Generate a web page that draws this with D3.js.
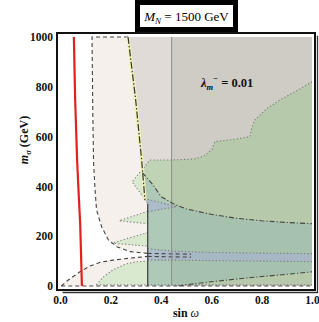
<!DOCTYPE html>
<html><head><meta charset="utf-8">
<script src="https://cdn.jsdelivr.net/npm/d3@7"></script>
<style>body{margin:0;background:#fff} text{font-family:"Liberation Serif","Times New Roman",serif}</style>
</head><body><svg id="c" width="319" height="322"></svg>
<script>
// ---- data (sin omega, m_sigma in GeV) ----
const xTicks = [0.0, 0.2, 0.4, 0.6, 0.8, 1.0];
const xTickLabels = ["0.0", "0.2", "0.4", "0.6", "0.8", "1.0"];
const yTicks = [0, 200, 400, 600, 800, 1000];
const yTickLabels = ["0", "200", "400", "600", "800", "1000"];

const redLine = [[0.055,1000],[0.06,750],[0.068,500],[0.075,350],[0.08,250],[0.087,0]];
const beigeUpper = [[0.27,1000],[0.127,1000],[0.13,700],[0.133,500],[0.139,386],[0.145,305],[0.165,238],[0.192,185],[0.225,158],[0.278,138],[0.348,131]];
const beigeLower = [[0.005,0],[0.03,22],[0.079,57],[0.119,80],[0.159,95],[0.21,104],[0.278,112],[0.348,119]];
const dashA = [[0.348,131],[0.45,129],[0.52,128]];
const dashB = [[0.348,119],[0.45,117],[0.52,116]];
const bottomDash = [[0.005,0],[1.0,0]];
const slantLine = [[0.27,1000],[0.30,750],[0.324,506],[0.337,345],[0.348,330]];
const slantEdge = [[0.348,330],[0.348,0]];
const grayEdge = [[0.443,0],[0.443,1000]];
const greenBorder = [[1.0,820],[0.95,790],[0.873,747],[0.82,712],[0.774,667],[0.76,632],[0.754,600],[0.70,590],[0.615,580],[0.603,548],[0.568,520],[0.53,510],[0.444,506],[0.357,506],[0.286,418],[0.344,339],[0.348,330]];
const greenBottom = [[0.145,5],[1.0,5]];
const tealUpper = [[0.327,455],[0.37,405],[0.40,360],[0.45,330],[0.5,310],[0.6,288],[0.7,272],[0.8,262],[0.9,255],[1.0,250]];
const tealLower = [[0.47,0],[0.5,5],[0.6,17],[0.7,28],[0.8,38],[0.9,47],[1.0,57]];
const lavTop = [[0.348,150],[0.45,140],[0.6,135],[0.8,132],[1.0,130]];
const lavBot = [[0.348,104],[0.45,104],[0.6,102],[0.8,100],[1.0,98]];
const lavWedge = [[0.348,348],[0.40,335],[0.46,318],[0.40,308],[0.348,298]];
const finger1 = [[0.348,300],[0.235,262],[0.348,250]];
const finger2 = [[0.348,215],[0.205,172],[0.348,160]];
const lens = [[0.145,5],[0.17,35],[0.21,65],[0.26,88],[0.30,97],[0.348,100],[0.348,5]];

// ---- scales ----
const svg = d3.select("#c");
const x = d3.scaleLinear().domain([-0.012,1.012]).range([57,315]);
const y = d3.scaleLinear().domain([-16,1016]).range([290,33]);
const line = d3.line().x(d=>x(d[0])).y(d=>y(d[1]));
const poly = pts => line(pts) + "Z";

const defs = svg.append("defs");
defs.append("clipPath").attr("id","plot").append("rect")
  .attr("x",x(-0.012)).attr("y",y(1016)).attr("width",x(1.012)-x(-0.012)).attr("height",y(-16)-y(1016));

const gray1 = slantLine.concat([[0.348,0],[1.0,0],[1.0,1000]]);
const leftOfSlant = [[0,1000]].concat(slantLine,[[0.348,0],[0,0]]);
defs.append("clipPath").attr("id","inGray").append("path").attr("d",poly(gray1));
defs.append("clipPath").attr("id","outGray").append("path").attr("d",poly(leftOfSlant));

const g = svg.append("g").attr("clip-path","url(#plot)");

// beige allowed region
const beige = [[1.0,1000]].concat(beigeUpper, beigeLower.slice().reverse(), [[1.0,0]]);
g.append("path").attr("d",poly(beige)).attr("fill","#e8ddd2").attr("fill-opacity",0.45);
// gray regions
g.append("path").attr("d",poly(gray1)).attr("fill","#b0aca6").attr("fill-opacity",0.3);
g.append("path").attr("d",poly([[0.443,0],[0.443,1000],[1,1000],[1,0]])).attr("fill","#a8a49f").attr("fill-opacity",0.3);
// green region
const greenPoly = greenBorder.concat([[0.348,5],[1.0,5]]);
g.append("path").attr("d",poly(greenPoly)).attr("clip-path","url(#inGray)").attr("fill","#8cc67c").attr("fill-opacity",0.37);
g.append("path").attr("d",poly(greenPoly)).attr("clip-path","url(#outGray)").attr("fill","#b8e0b0").attr("fill-opacity",0.45);
[finger1, finger2, lens].forEach(f=>{
  g.append("path").attr("d",poly(f)).attr("fill","#b8e0b0").attr("fill-opacity",0.45);
});
// teal region
const teal = tealUpper.concat(tealLower.slice().reverse(), [[0.348,0],[0.348,330],[0.337,345]]);
g.append("path").attr("d",poly(teal)).attr("fill","#6fa8c0").attr("fill-opacity",0.22);
// lavender
g.append("path").attr("d",poly(lavTop.concat(lavBot.slice().reverse()))).attr("fill","#a8a4ec").attr("fill-opacity",0.35);
g.append("path").attr("d",poly(lavWedge)).attr("fill","#a8a4ec").attr("fill-opacity",0.35);

// lines
const stroke = (pts, col, w, dash) => g.append("path").attr("d",line(pts)).attr("fill","none")
  .attr("stroke",col).attr("stroke-width",w).attr("stroke-dasharray",dash);
[greenBorder, greenBottom, lavTop, lavBot, lavWedge.slice(0,3), lavWedge.slice(2)].forEach(p=>stroke(p,"#7a7a7a",1.1,"1.2,2.2"));
[finger1, finger2, lens.slice(0,6)].forEach(p=>stroke(p,"#7a7a7a",1.1,"1.2,2.2"));
[beigeUpper, beigeLower, dashA, dashB, bottomDash].forEach(p=>stroke(p,"#444",1.1,"4,3"));
stroke(grayEdge,"#8c8c8c",1,null);
stroke(slantEdge,"#444",1.3,null);
stroke(slantLine.slice(0,4),"#f2f0b8",3.5,null);
stroke(slantLine.slice(0,4),"#333",1.2,"7,2,1.5,2");
stroke(tealUpper,"#444",1.1,"5,2,1.2,2");
stroke(tealLower,"#444",1.1,"5,2,1.2,2");
stroke(redLine,"#e3201b",2.2,null);

// frame
svg.append("rect").attr("x",x(-0.012)).attr("y",y(1016)).attr("width",x(1.012)-x(-0.012)).attr("height",y(-16)-y(1016))
  .attr("fill","none").attr("stroke","#111").attr("stroke-width",2);
svg.append("path").attr("d",`M${x(1.012)+2.5},${y(1005)}V${y(-16)+2.5}H${x(0.01)}`).attr("fill","none").attr("stroke","#333").attr("stroke-width",1.3);

// axes
const ax = svg.append("g").attr("transform",`translate(0,${y(-16)})`)
  .call(d3.axisBottom(x).tickValues(xTicks).tickSize(0).tickPadding(6).tickFormat((d,i)=>xTickLabels[i]));
const ay = svg.append("g").attr("transform",`translate(${x(-0.012)},0)`)
  .call(d3.axisLeft(y).tickValues(yTicks).tickSize(0).tickPadding(4).tickFormat((d,i)=>yTickLabels[i]));
[ax,ay].forEach(a=>{a.select(".domain").remove();
  a.selectAll("text").attr("font-family","Liberation Serif").attr("font-weight","bold").attr("font-size",11.5).attr("fill","#111");});

// title box
svg.append("rect").attr("x",137.5).attr("y",2.5).attr("width",98).attr("height",27).attr("fill","#fff").attr("stroke","#000").attr("stroke-width",5);
const t = svg.append("text").attr("x",186.5).attr("y",21).attr("text-anchor","middle").attr("font-size",13).attr("fill","#000");
t.append("tspan").attr("font-style","italic").text("M");
t.append("tspan").attr("font-style","italic").attr("font-size",9).attr("dy",3).text("N");
t.append("tspan").attr("dy",-3).text(" = 1500 GeV");

// lambda label
const l = svg.append("text").attr("x",201).attr("y",87).attr("font-size",12.5).attr("font-weight","bold").attr("fill","#111");
l.append("tspan").attr("font-style","italic").text("λ");
l.append("tspan").attr("font-style","italic").attr("font-size",8.5).attr("dy",3).text("m");
l.append("tspan").attr("font-size",8.5).attr("dy",-9).text("−");
l.append("tspan").attr("dy",6).text(" = 0.01");

// axis titles
const yl = svg.append("text").attr("transform","translate(28,140) rotate(-90)").attr("text-anchor","middle").attr("font-size",12).attr("font-weight","bold").attr("fill","#111");
yl.append("tspan").attr("font-style","italic").text("m");
yl.append("tspan").attr("font-style","italic").attr("font-size",8.5).attr("dy",3).text("σ");
yl.append("tspan").attr("dy",-3).text(" (GeV)");
const xl = svg.append("text").attr("x",186).attr("y",317).attr("text-anchor","middle").attr("font-size",12).attr("font-weight","bold").attr("fill","#111");
xl.append("tspan").text("sin ");
xl.append("tspan").attr("font-style","italic").attr("font-weight","normal").text("ω");
</script></body></html>
